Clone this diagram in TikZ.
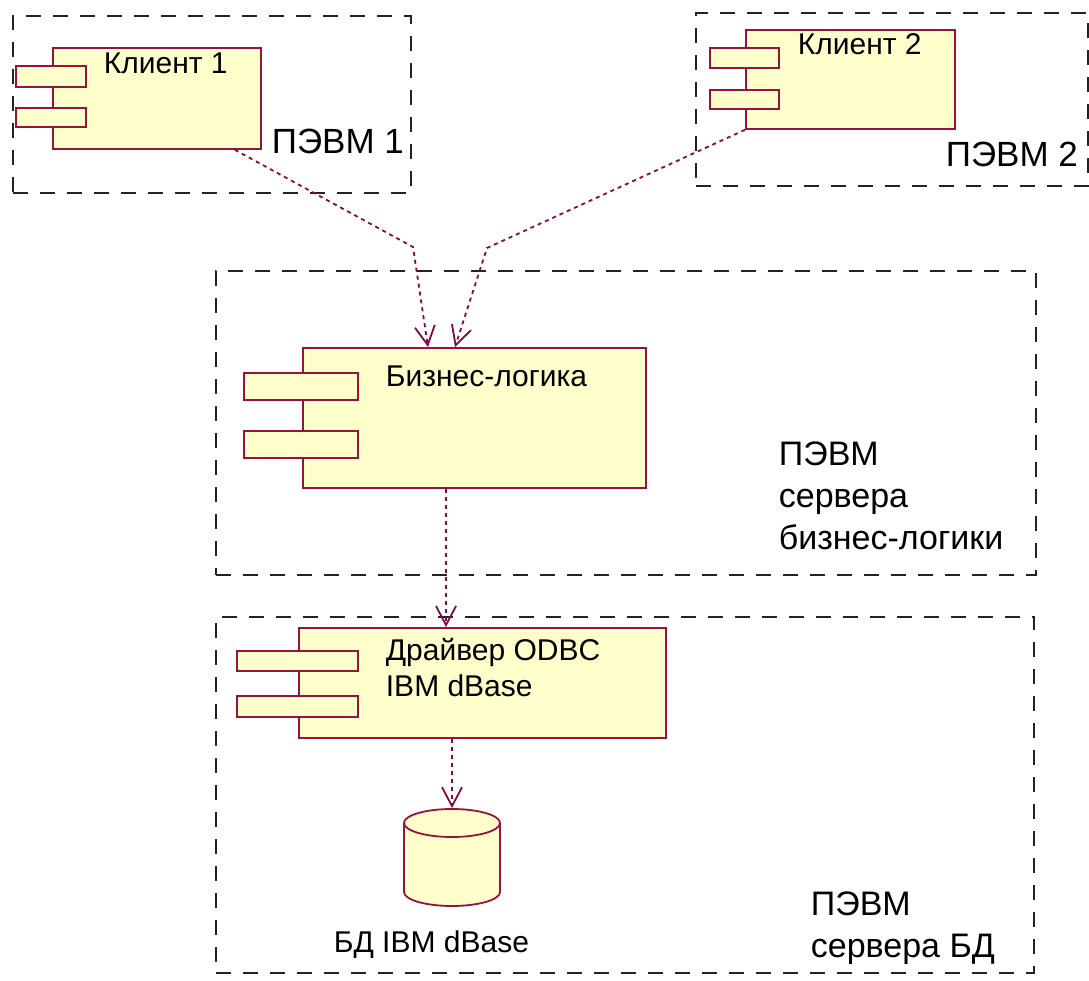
\documentclass[tikz,border=0pt]{standalone}
\usepackage{fontspec}
\setmainfont{Liberation Sans}
\usetikzlibrary{arrows.meta}

\definecolor{compfill}{RGB}{255,255,204}
\definecolor{compline}{RGB}{150,20,60}
\definecolor{depline}{RGB}{130,10,70}
\definecolor{pcline}{RGB}{35,35,35}

\begin{document}
\begin{tikzpicture}[x=1pt,y=1pt,>={Straight Barb[length=19pt,width=20pt]},line width=1.8pt]
          \tikzstyle{pcbox}=[draw=pcline,dash pattern=on 15pt off 12pt,anchor=north west,inner sep=0]
          \tikzstyle{comp}=[draw=compline,fill=compfill,anchor=north west,inner sep=0]
          \tikzstyle{dep}=[->,draw=depline,dash pattern=on 4pt off 4pt]
          \tikzstyle{ctext}=[anchor=base west,inner sep=0,font=\fontsize{30}{36}\selectfont]
          \tikzstyle{pctext}=[anchor=base west,inner sep=0,align=left,font=\fontsize{34}{42}\selectfont]
          \useasboundingbox (0,0) rectangle (1089,980);

          % nodes (PCs)
          \node[pcbox,minimum width=398,minimum height=177] (pc1)      at (12,965)  {};
          \node[pcbox,minimum width=392,minimum height=173] (pc2)      at (695,968) {};
          \node[pcbox,minimum width=820,minimum height=304] (srvlogic) at (215,710) {};
          \node[pcbox,minimum width=818,minimum height=356] (srvdb)    at (215,364) {};

          % components
          \node[comp,minimum width=208,minimum height=101] (klient1) at (52,933)  {};
          \path[comp] (16,914) rectangle (86,893) (16,872) rectangle (86,853);
          \node[comp,minimum width=209,minimum height=99]  (klient2) at (745,951) {};
          \path[comp] (710,932) rectangle (779,912) (710,890) rectangle (779,871);
          \node[comp,minimum width=343,minimum height=140] (logic)   at (302,633) {};
          \path[comp] (244,607) rectangle (358,580) (244,549) rectangle (358,522);
          \node[comp,minimum width=367,minimum height=110] (driver)  at (298,353) {};
          \path[comp] (237,329) rectangle (358,309) (237,284) rectangle (358,263);

          % database
          \node[minimum width=96,minimum height=97,inner sep=0] (db) at (452,122.5) {};
          \path[comp] (404,157) -- (404,88) arc[start angle=180,end angle=360,x radius=48pt,y radius=14pt]
                -- (500,157) arc[start angle=0,end angle=180,x radius=48pt,y radius=14pt] -- cycle;
          \draw[compline] (404,157) arc[start angle=180,end angle=360,x radius=48pt,y radius=14pt];

          % texts (multi-line ones sit on their last line)
          \node[ctext] (klient1text) at (103,906) {Клиент 1};
          \node[ctext] (klient2text) at (797,925) {Клиент 2};
          \node[ctext] (logictext)   at (385,593) {Бизнес-логика};
          \node[ctext,align=left] (drivertext) at (385,283) {Драйвер ODBC\\IBM dBase};
          \node[ctext] (dbtext)      at (333,28)  {БД IBM dBase};
          \node[pctext,font=\fontsize{35}{42}\selectfont] (pc1text) at (271,826) {ПЭВМ 1};
          \node[pctext,font=\fontsize{35}{42}\selectfont] (pc2text) at (945,813) {ПЭВМ 2};
          \node[pctext] (srvlogictext) at (778,430) {ПЭВМ\\сервера\\бизнес-логики};
          \node[pctext] (srvdbtext)    at (810,23)  {ПЭВМ\\сервера БД};

          % dependencies
          \coordinate (bend1) at (413,733);
          \coordinate (bend2) at (487,732);
          \draw[dep] ([xshift=-27pt]klient1.south east) -- (bend1) -- ([xshift=126pt]logic.north west);
          \draw[dep] (klient2.south west) -- (bend2) -- ([xshift=153pt]logic.north west);
          \draw[dep] ([xshift=144pt]logic.south west) -- ([xshift=148pt]driver.north west);
          \draw[dep] ([xshift=154pt]driver.south west) -- (db.north);
        \end{tikzpicture}
\end{document}
